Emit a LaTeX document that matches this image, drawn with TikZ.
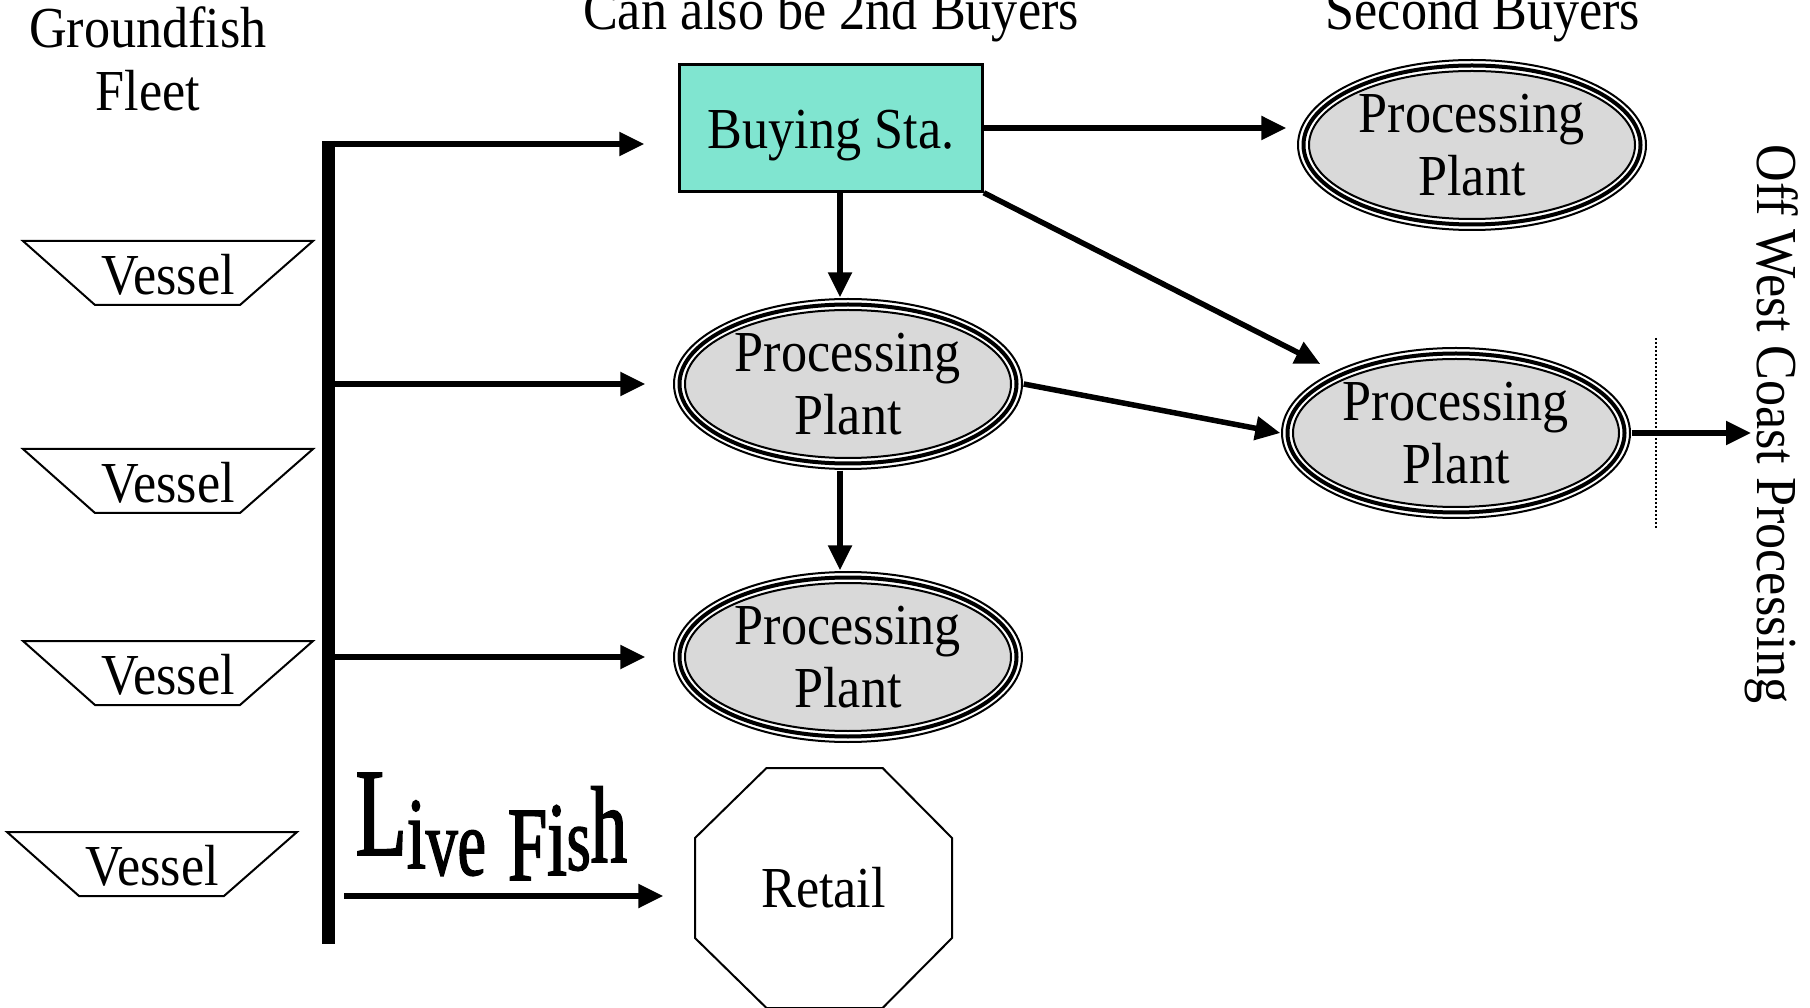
\documentclass[tikz,border=0pt]{standalone}
\usepackage{fontspec}
\setmainfont{Liberation Serif}[FakeStretch=0.9]
\newfontfamily\wordartfont{Liberation Serif}[FakeStretch=0.67, FakeBold=1.5]
\usetikzlibrary{arrows.meta,shapes.geometric}

\definecolor{stagreen}{RGB}{128,229,208}
\definecolor{plantgray}{RGB}{217,217,217}

\newcommand{\bigtext}{\fontsize{16.5}{17.8}\selectfont}
% one letter of the word-art text: size, raise, letter
\newcommand{\wa}[3]{\raisebox{#2}{\fontsize{#1}{#1}\selectfont #3}}

% processing plant: three rings round a grey ellipse
\newcommand{\plantnode}[2]{%
  \draw[line width=0.02cm, fill=white] #2 ellipse (1.74 and 0.85);
  \draw[line width=0.04cm] #2 ellipse (1.685 and 0.795);
  \draw[line width=0.02cm, fill=plantgray] #2 ellipse (1.63 and 0.74);
  \node (#1) [plant] at #2 {Processing\\Plant};
}

\tikzset{
  flow/.style={line width=0.055cm, -{Triangle[length=0.25cm, width=0.23cm]}},
  plant/.style={ellipse, minimum width=3.50cm, minimum height=1.72cm, inner sep=0pt, align=center},
}

\begin{document}
\begin{tikzpicture}[font=\bigtext]
\useasboundingbox (0.0, 0.0) rectangle (18.10, 10.07);

% titles
\node (fleet) [align=center] at (1.48, 9.48) {Groundfish\\Fleet};
\node (buyers1) [anchor=base] at (8.31, 9.77) {Can also be 2nd Buyers};
\node (buyers2) [anchor=base] at (14.83, 9.77) {Second Buyers};

% vessels
\foreach \y/\x [count=\i] in {7.66/0.23, 5.58/0.23, 3.66/0.23, 1.75/0.07} {
  \draw[line width=0.02cm]
      (\x, \y) -- (\x+2.90, \y) -- (\x+2.17, \y-0.64) -- (\x+0.72, \y-0.64) -- cycle;
  \node (vessel\i) at (\x+1.45, \y-0.34) {Vessel};
}

% bus
\coordinate (bustop) at (3.28, 8.66);
\coordinate (busend) at (3.28, 0.63);
\draw[line width=0.13cm] (bustop) -- (busend);
\coordinate (b1) at (3.28, 8.63);
\coordinate (b2) at (3.28, 6.23);
\coordinate (b3) at (3.28, 3.50);
\coordinate (lf) at (3.44, 1.11);

% buyers
\node (sta) [draw, line width=0.025cm, fill=stagreen, minimum width=3.03cm, minimum height=1.27cm,
    text height=0.42cm, text depth=0cm] at (8.31, 8.79) {Buying Sta.};
\plantnode{pp1}{(8.48, 6.23)}
\plantnode{pp3}{(8.48, 3.50)}
\plantnode{pp2}{(14.72, 8.62)}
\plantnode{pp4}{(14.56, 5.74)}

% retail
\draw[line width=0.02cm]
    (7.665, 2.39) -- (8.826, 2.39) -- (9.52, 1.69) -- (9.52, 0.69) --
    (8.826, -0.01) -- (7.665, -0.01) -- (6.95, 0.69) -- (6.95, 1.69) -- cycle;
\node (retail) [minimum width=2.57cm] at (8.235, 1.19) {Retail};

\node (livefish) [anchor=base west, inner sep=0pt, font=\wordartfont] at (3.55, 1.39)
    {\wa{35.6}{0.13cm}{L}\wa{29}{0cm}{i}\wa{27}{-0.07cm}{v}\wa{27}{-0.07cm}{e}\hspace{0.22cm}%
     \wa{30}{-0.12cm}{F}\wa{30}{-0.07cm}{i}\wa{26}{-0.02cm}{s}\wa{31}{0.06cm}{h}};

% flows
\draw[flow, shorten >=0.34cm] (b1) -- (b1 -| sta.west);
\draw[flow, shorten >=0.27cm] (b2) -- (pp1.west);
\draw[flow, shorten >=0.27cm] (b3) -- (pp3.west);
\draw[flow, shorten >=0.31cm] (lf) -- (lf -| retail.west);

\draw[flow, shorten >=0.10cm] (sta.east) -- (sta.east -| pp2.west);
\draw[flow] ([xshift=-0.08cm]pp1.north |- sta.south) -- ([xshift=-0.08cm]pp1.north);
\draw[flow, shorten >=0.15cm] (sta.south east) -- (pp4);
\draw[flow] (pp1.east) -- (pp4.west);
\draw[flow] ([xshift=-0.08cm]pp1.south) -- ([xshift=-0.08cm]pp3.north);

\coordinate (off) at (17.51, 5.74);
\draw[flow] (pp4.east) -- (off);
\draw[line width=0.015cm, dash pattern=on 0.02cm off 0.02cm] (16.56, 6.69) -- (16.56, 4.77);

\node (offwest) [rotate=-90] at (17.72, 5.83) {Off West Coast Processing};
\end{tikzpicture}
\end{document}
